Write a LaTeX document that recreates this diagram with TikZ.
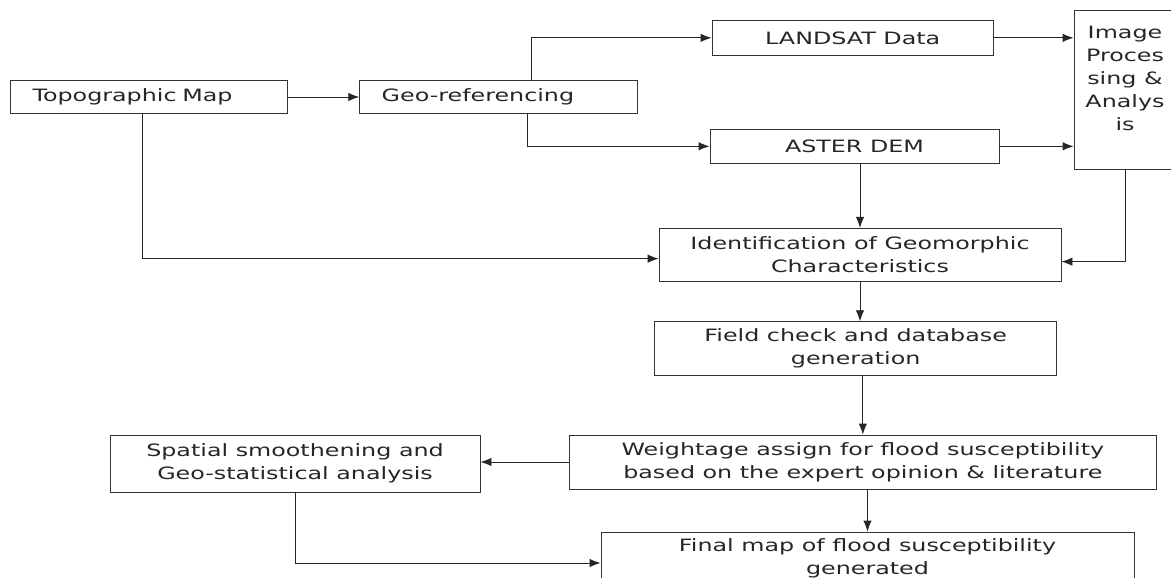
\documentclass[tikz,border=0pt]{standalone}
\usepackage{fontspec}
\setmainfont{DejaVu Sans}[FakeStretch=1.4]
\usepackage{tikz}
\usetikzlibrary{arrows.meta}

\begin{document}
\begin{tikzpicture}[x=1pt,y=-1pt,
        box/.style={draw=black!80,line width=0.9pt,inner sep=0pt,align=center,text=black!85,
            font=\fontsize{17}{23}\selectfont},
        lbox/.style={box,align=left,inner xsep=22pt},
        arr/.style={-{Latex[length=11pt,width=8.5pt]},line width=0.9pt,black!85}]
        \useasboundingbox (0,0) rectangle (1171,578);
        \node[lbox,text width=233pt,minimum height=32.6pt] (topo) at (149,97) {Topographic Map};
        \node[lbox,text width=234pt,minimum height=32.6pt] (georef) at (498.7,97) {Geo-referencing};
        \node[box,minimum width=281.5pt,minimum height=34.3pt] (landsat) at (852.75,37.85) {LANDSAT Data};
        \node[box,minimum width=289pt,minimum height=34pt] (aster) at (854.5,146.3) {ASTER DEM};
        \node[box,minimum width=102pt,minimum height=158.6pt] (ip) at (1125,90) {};
        \node[box,draw=none,anchor=north] (iptext) at ([yshift=-15pt]ip.north) {Image\\Proces\\sing \&\\Analys\\is};
        \node[box,minimum width=402pt,minimum height=52.7pt] (ident) at (860,254.65) {Identification of Geomorphic\\Characteristics};
        \node[box,minimum width=402pt,minimum height=53.3pt] (field) at (855.7,348.35) {Field check and database\\generation};
        \node[box,minimum width=587.7pt,minimum height=54pt] (weight) at (862.85,462) {Weightage assign for flood susceptibility\\based on the expert opinion \& literature};
        \node[box,minimum width=370pt,minimum height=57pt] (spatial) at (295,463.5) {Spatial smoothening and\\Geo-statistical analysis};
        \node[box,minimum width=533pt,minimum height=52pt] (final) at (867.5,558) {Final map of flood susceptibility\\generated};

        \draw[arr] (topo) -- (georef);
        \draw[arr] ([xshift=33pt]georef.north) |- (landsat);
        \draw[arr] ([xshift=29pt]georef.south) |- (aster);
        \draw[arr] (landsat) -- (landsat -| ip.west);
        \draw[arr] (aster) -- (aster -| ip.west);
        \draw[arr] (aster.south -| ident.north) -- (ident);
        \draw[arr] (ip) |- ([yshift=-7pt]ident.east);
        \draw[arr] ([xshift=-7pt]topo.south) |- ([yshift=-4pt]ident.west);
        \draw[arr] (ident.south) -- (ident.south |- field.north);
        \draw[arr] (field.south -| weight) -- (weight);
        \draw[arr] (weight) -- (weight -| spatial.east);
        \draw[arr] (weight.south -| final) -- (final);
        \draw[arr] (spatial) |- ([yshift=-5pt]final.west);
    \end{tikzpicture}
\end{document}
